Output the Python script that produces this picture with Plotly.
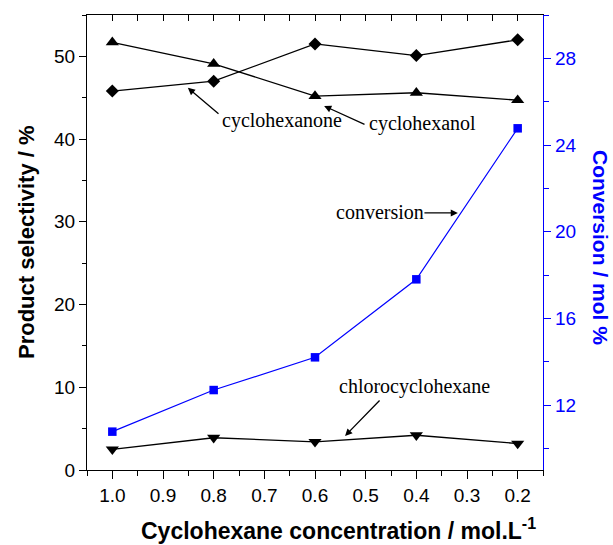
import plotly.graph_objects as go

# ---- data ----
concentration = [1.0, 0.8, 0.6, 0.4, 0.2]
cyclohexanone = [45.8, 47.0, 51.5, 50.1, 52.0]
cyclohexanol = [51.7, 49.1, 45.2, 45.6, 44.7]
chlorocyclohexane = [2.5, 3.9, 3.4, 4.2, 3.2]
conversion = [10.77, 12.69, 14.2, 17.8, 24.77]

x_ticks = [1.0, 0.9, 0.8, 0.7, 0.6, 0.5, 0.4, 0.3, 0.2]
x_tick_text = ["1.0", "0.9", "0.8", "0.7", "0.6", "0.5", "0.4", "0.3", "0.2"]
x_top_ticks = [1.0, 0.95, 0.9, 0.85, 0.8, 0.75, 0.7, 0.65, 0.6, 0.55, 0.5,
               0.45, 0.4, 0.35, 0.3, 0.25, 0.2]
left_ticks = [0, 10, 20, 30, 40, 50]
right_ticks = [12, 16, 20, 24, 28]

X_RANGE = [1.05, 0.15]
Y_RANGE = [0, 55]
Y2_RANGE = [9, 30]

BLUE = "#0000ff"
SANS = "Liberation Sans, Arial, sans-serif"
SERIF = "Liberation Serif, Times New Roman, serif"

fig = go.Figure()

line_black = dict(color="black", width=1.3)

fig.add_trace(go.Scatter(
    x=concentration, y=cyclohexanone, mode="lines+markers", name="cyclohexanone",
    line=line_black, marker=dict(symbol="diamond", size=10, color="black")))
fig.add_trace(go.Scatter(
    x=concentration, y=cyclohexanol, mode="lines+markers", name="cyclohexanol",
    line=line_black, marker=dict(symbol="triangle-up", size=11.5, color="black")))
fig.add_trace(go.Scatter(
    x=concentration, y=chlorocyclohexane, mode="lines+markers", name="chlorocyclohexane",
    line=line_black, marker=dict(symbol="triangle-down", size=11.5, color="black")))
fig.add_trace(go.Scatter(
    x=concentration, y=conversion, mode="lines+markers", name="conversion",
    yaxis="y2", line=dict(color=BLUE, width=1.2),
    marker=dict(symbol="square", size=8.5, color=BLUE)))
# dummy trace so the top tick axis is drawn
fig.add_trace(go.Scatter(x=[None], y=[None], xaxis="x2", yaxis="y",
                         showlegend=False, hoverinfo="skip"))

fig.update_layout(
    width=613, height=545,
    margin=dict(l=87, r=70, t=15, b=75),
    paper_bgcolor="white", plot_bgcolor="white",
    showlegend=False,
    font=dict(family=SANS, size=19, color="black"),
    xaxis=dict(
        range=X_RANGE, tickvals=x_ticks, ticktext=x_tick_text,
        ticks="outside", ticklen=8, tickwidth=1.2, tickcolor="black",
        minor=dict(dtick=0.05, tick0=0, ticks="outside", ticklen=5,
                   tickwidth=1.2, tickcolor="black"),
        showline=True, linecolor="black", linewidth=1.3,
        showgrid=False, zeroline=False,
        tickfont=dict(family=SANS, size=19, color="black"),
    ),
    xaxis2=dict(
        range=X_RANGE, overlaying="x", side="top", anchor="y",
        tickvals=x_top_ticks, showticklabels=False,
        ticks="inside", ticklen=6, tickwidth=1.2, tickcolor="black",
        showline=True, linecolor="black", linewidth=1.3,
        showgrid=False, zeroline=False,
    ),
    yaxis=dict(
        range=Y_RANGE, tickvals=left_ticks,
        ticks="outside", ticklen=7, tickwidth=1.2, tickcolor="black",
        minor=dict(dtick=10, tick0=5, ticks="outside", ticklen=4,
                   tickwidth=1.2, tickcolor="black"),
        showline=True, linecolor="black", linewidth=1.3,
        showgrid=False, zeroline=False,
        tickfont=dict(family=SANS, size=19, color="black"),
    ),
    yaxis2=dict(
        range=Y2_RANGE, tickvals=right_ticks, overlaying="y", side="right",
        anchor="x",
        ticks="outside", ticklen=7, tickwidth=1.2, tickcolor=BLUE,
        minor=dict(dtick=4, tick0=10, ticks="outside", ticklen=5,
                   tickwidth=1.2, tickcolor=BLUE),
        showline=True, linecolor=BLUE, linewidth=1.3,
        showgrid=False, zeroline=False,
        tickfont=dict(family=SANS, size=19, color=BLUE),
    ),
)

# axis titles
title_font = dict(family=SANS, size=22, color="black")
fig.add_annotation(text="<b>Product selectivity / %</b>", xref="paper", yref="paper",
                   x=(26 - 87) / 456, y=(470 - 242) / 455, showarrow=False,
                   textangle=-90, font=title_font, xanchor="center", yanchor="middle")
fig.add_annotation(text="<b>Conversion / mol %</b>", xref="paper", yref="paper",
                   x=(600 - 87) / 456, y=(470 - 247) / 455, showarrow=False,
                   textangle=90, font=dict(family=SANS, size=21, color=BLUE),
                   xanchor="center", yanchor="middle")
fig.add_annotation(text="<b>Cyclohexane concentration / mol.L<sup>-1</sup></b>",
                   xref="paper", yref="paper",
                   x=(338 - 87) / 456, y=(470 - 529) / 455, showarrow=False,
                   font=dict(family=SANS, size=23, color="black"),
                   xanchor="center", yanchor="middle")

# labels and arrows
label_font = dict(family=SERIF, size=20, color="black")
labels = [
    ("cyclohexanone", 0.6657, 42.3),
    ("cyclohexanol", 0.3877, 41.9),
    ("conversion", 0.4726, 31.2),
    ("chlorocyclohexane", 0.4035, 10.15),
]
for txt, lx, ly in labels:
    fig.add_annotation(text=txt, x=lx, y=ly, xref="x", yref="y", showarrow=False,
                       font=label_font, xanchor="center", yanchor="middle")

arrows = [  # (tail x, tail y, tip x, tip y) in data coordinates of left axis
    (0.7875, 42.9, 0.851, 46.2),
    (0.4993, 41.7, 0.582, 44.0),
    (0.387, 31.07, 0.318, 31.07),
    (0.4697, 8.58, 0.5407, 4.11),
]
for tx, ty, hx, hy in arrows:
    fig.add_annotation(text="", x=hx, y=hy, xref="x", yref="y",
                       ax=tx, ay=ty, axref="x", ayref="y",
                       showarrow=True, arrowhead=2, arrowsize=1.1,
                       arrowwidth=1.3, arrowcolor="black", standoff=0)

fig.write_html("out.html")
